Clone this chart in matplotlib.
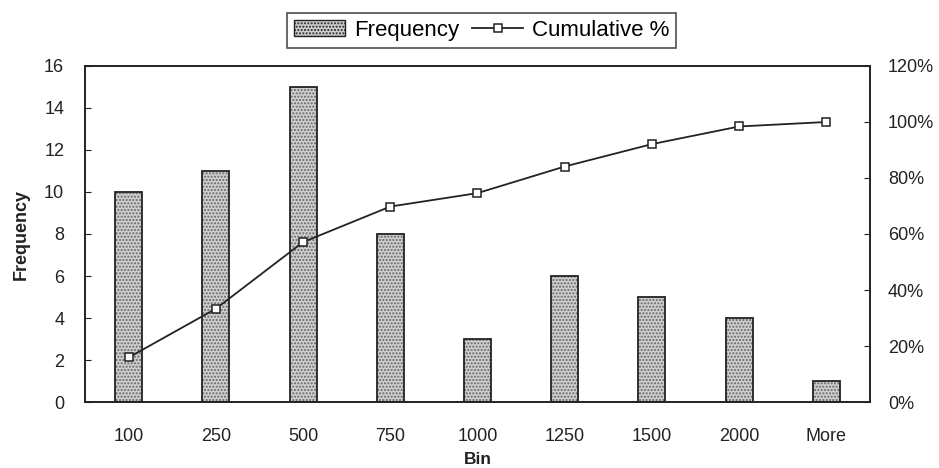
import matplotlib
matplotlib.use("Agg")
import matplotlib.pyplot as plt
from matplotlib.ticker import FuncFormatter
from matplotlib.patches import Patch
import numpy as np

plt.rcParams['font.family'] = ['Liberation Sans', 'DejaVu Sans']

bins = ['100', '250', '500', '750', '1000', '1250', '1500', '2000', 'More']
frequency = [10, 11, 15, 8, 3, 6, 5, 4, 1]
cumulative_pct = [15.9, 33.3, 57.1, 69.8, 74.6, 84.1, 92.1, 98.4, 100.0]

fig = plt.figure(figsize=(9.39, 4.68), dpi=100)
ax = fig.add_axes([0.0905, 0.141, 0.836, 0.718])
x = np.arange(len(bins))
w = 0.31

ax.bar(x, frequency, width=w, color='#cfcfcf', edgecolor='#666666', hatch='.....', linewidth=0, zorder=2)
ax.bar(x, frequency, width=w, facecolor='none', edgecolor='#222222', linewidth=1.3, zorder=3,
       label='Frequency')

ax.set_xlim(-0.5, len(bins) - 0.5)
ax.set_ylim(0, 16)
ax.set_yticks(range(0, 17, 2))
ax.set_xticks(x)
ax.set_xticklabels(bins)
ax.tick_params(axis='y', direction='in', length=4, labelsize=13, colors='#222222', pad=15)
ax.tick_params(axis='x', length=0, labelsize=13, colors='#222222', pad=19)
ax.set_ylabel('Frequency', fontsize=13, fontweight='bold', color='#222222', labelpad=10)
ax.set_xlabel('Bin', fontsize=12.5, fontweight='bold', color='#222222', labelpad=5)
for s in ax.spines.values():
    s.set_color('#222222')
    s.set_linewidth(1.2)

ax2 = ax.twinx()
ax2.plot(x, cumulative_pct, color='#222222', linewidth=1.3, marker='s', markersize=6,
         markerfacecolor='white', markeredgecolor='#222222', markeredgewidth=1.1,
         label='Cumulative %', zorder=4)
ax2.set_ylim(0, 120)
ax2.set_yticks(range(0, 121, 20))
ax2.yaxis.set_major_formatter(FuncFormatter(lambda v, p: f'{int(v)}%'))
ax2.tick_params(axis='y', direction='in', length=4, labelsize=13, colors='#222222', pad=13)
for s in ax2.spines.values():
    s.set_color('#222222')
    s.set_linewidth(1.2)

h1, l1 = ax.get_legend_handles_labels()
h2, l2 = ax2.get_legend_handles_labels()
h1 = [Patch(facecolor='#cfcfcf', edgecolor='#222222', hatch='.....', linewidth=1.0)]
leg = fig.legend(h1 + h2, l1 + l2, loc='center', bbox_to_anchor=(0.513, 0.935), ncol=2,
                 fontsize=16, frameon=True, fancybox=False, edgecolor='#222222',
                 handlelength=2.3, columnspacing=0.6, handletextpad=0.4, borderpad=0.3)
leg.get_frame().set_linewidth(1.2)

fig.savefig('out.png', dpi=100, facecolor='white')
